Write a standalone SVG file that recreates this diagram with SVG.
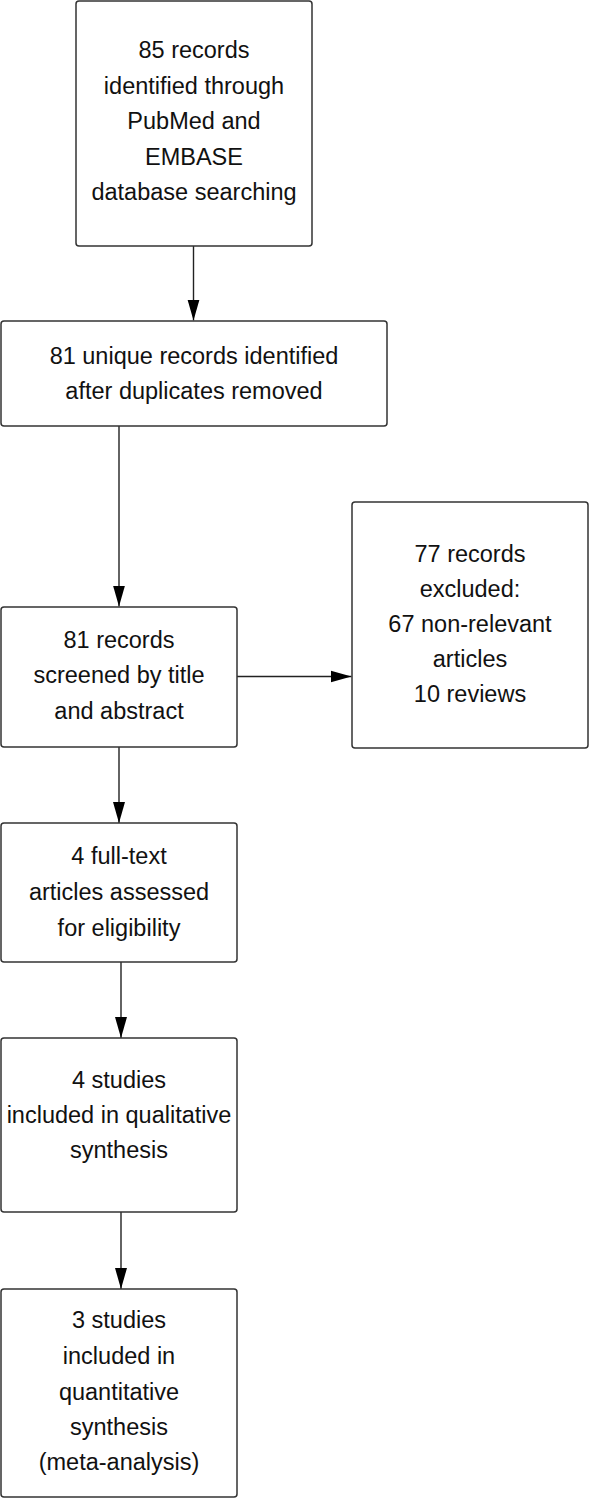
<svg xmlns="http://www.w3.org/2000/svg" width="589" height="1499" viewBox="0 0 589 1499">
<style>
.box{fill:#fff;stroke:#333;stroke-width:1.5}
.t{font-family:"Liberation Sans",Arial,sans-serif;font-size:23.5px;fill:#111;text-anchor:middle}
.c{stroke:#222;stroke-width:1.4;fill:none}
</style>
<defs>
<marker id="ah" markerUnits="userSpaceOnUse" markerWidth="21" markerHeight="13" refX="21" refY="6.5" orient="auto">
<path d="M0,0.5 L21,6.5 L0,12.5 z" fill="#000"/>
</marker>
</defs>
<rect width="589" height="1499" fill="#fff"/>
<g id="connectors">
<line class="c" x1="193.5" y1="246" x2="193.5" y2="320.5" marker-end="url(#ah)"/>
<line class="c" x1="119" y1="426" x2="119" y2="606.5" marker-end="url(#ah)"/>
<line class="c" x1="237" y1="676.5" x2="351.5" y2="676.5" marker-end="url(#ah)"/>
<line class="c" x1="119" y1="747" x2="119" y2="823" marker-end="url(#ah)"/>
<line class="c" x1="121" y1="962" x2="121" y2="1038" marker-end="url(#ah)"/>
<line class="c" x1="121" y1="1212" x2="121" y2="1289" marker-end="url(#ah)"/>
</g>
<g id="n1">
<rect class="box" x="76" y="1" width="236" height="245" rx="3"/>
<text class="t" x="194" y="58">85 records</text>
<text class="t" x="194" y="94">identified through</text>
<text class="t" x="194" y="129">PubMed and</text>
<text class="t" x="194" y="165">EMBASE</text>
<text class="t" x="194" y="200">database searching</text>
</g>
<g id="n2">
<rect class="box" x="1" y="321" width="386" height="105" rx="3"/>
<text class="t" x="194" y="364">81 unique records identified</text>
<text class="t" x="194" y="399">after duplicates removed</text>
</g>
<g id="n3">
<rect class="box" x="1" y="607" width="236" height="140" rx="3"/>
<text class="t" x="119" y="648">81 records</text>
<text class="t" x="119" y="683">screened by title</text>
<text class="t" x="119" y="719">and abstract</text>
</g>
<g id="n4">
<rect class="box" x="352" y="502" width="236" height="246" rx="3"/>
<text class="t" x="470" y="562">77 records</text>
<text class="t" x="470" y="597">excluded:</text>
<text class="t" x="470" y="632">67 non-relevant</text>
<text class="t" x="470" y="667">articles</text>
<text class="t" x="470" y="702">10 reviews</text>
</g>
<g id="n5">
<rect class="box" x="1" y="823" width="236" height="139" rx="3"/>
<text class="t" x="119" y="864">4 full-text</text>
<text class="t" x="119" y="900">articles assessed</text>
<text class="t" x="119" y="936">for eligibility</text>
</g>
<g id="n6">
<rect class="box" x="1" y="1038" width="236" height="174" rx="3"/>
<text class="t" x="119" y="1088">4 studies</text>
<text class="t" x="119" y="1123">included in qualitative</text>
<text class="t" x="119" y="1158">synthesis</text>
</g>
<g id="n7">
<rect class="box" x="1" y="1289" width="236" height="208" rx="3"/>
<text class="t" x="119" y="1328">3 studies</text>
<text class="t" x="119" y="1364">included in</text>
<text class="t" x="119" y="1400">quantitative</text>
<text class="t" x="119" y="1435">synthesis</text>
<text class="t" x="119" y="1470">(meta-analysis)</text>
</g>
</svg>
